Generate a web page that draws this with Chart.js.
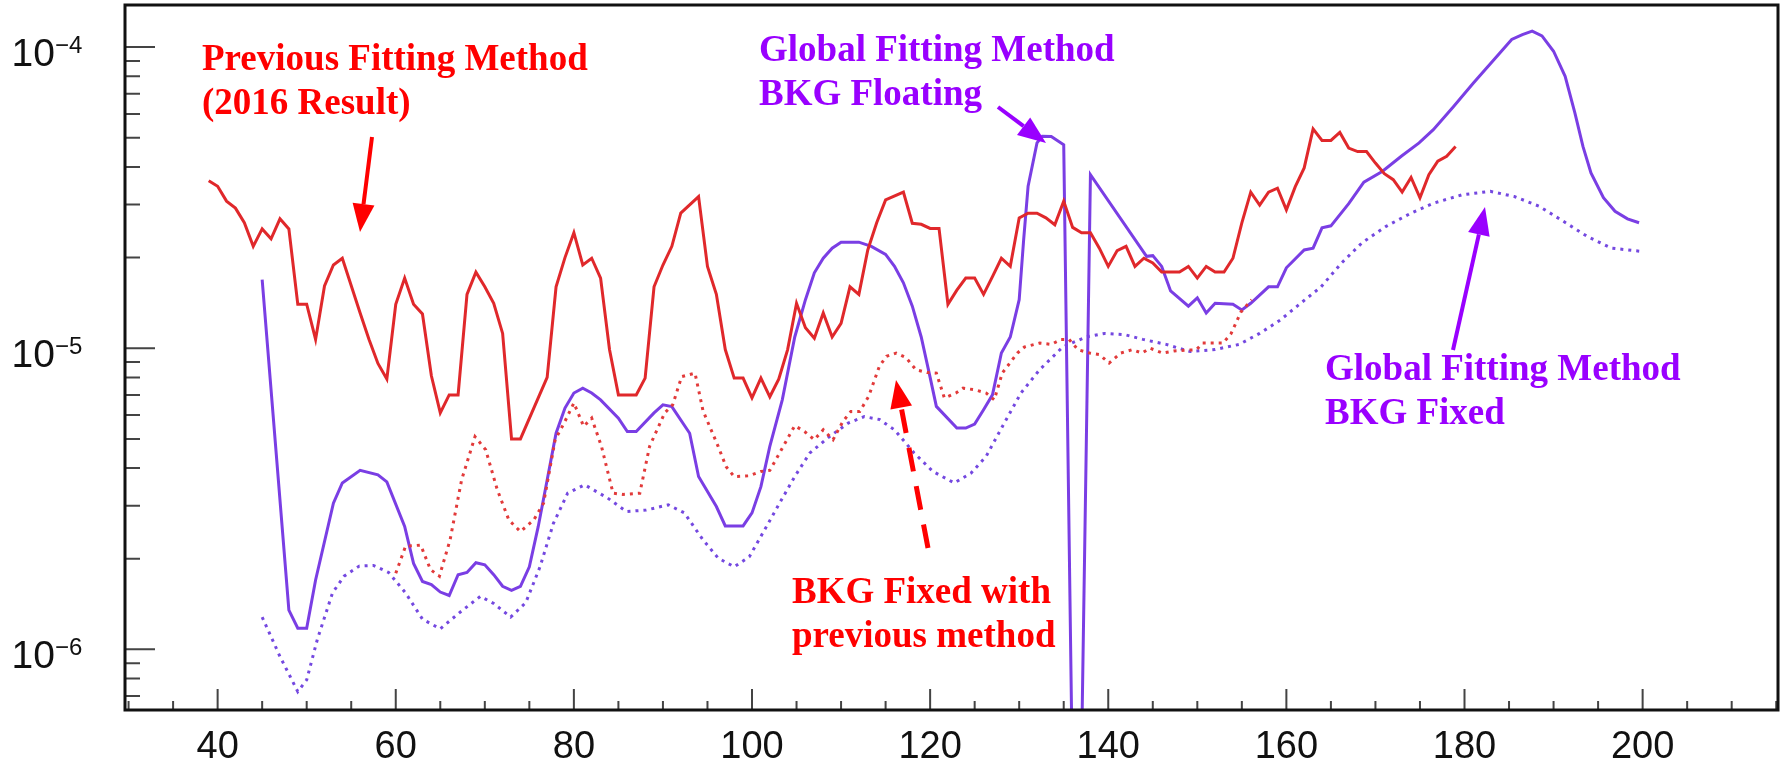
<!DOCTYPE html>
<html>
<head>
<meta charset="utf-8">
<title>Limit comparison</title>
<script src="https://cdn.jsdelivr.net/npm/chart.js@4.4.1/dist/chart.umd.min.js"></script>
<style>
  html, body { margin: 0; padding: 0; background: #fff; }
  #wrap { width: 1785px; height: 764px; }
</style>
</head>
<body>
<div id="wrap"><canvas id="limitChart" width="1785" height="764"></canvas></div>
<script>
// axis ticks
const xTicks = [40, 60, 80, 100, 120, 140, 160, 180, 200];
const yTicks = [1e-6, 1e-5, 1e-4];
const yTickBase = ['10', '10', '10'];
const yTickExp = ['\u22126', '\u22125', '\u22124'];

// Previous Fitting Method (2016 Result) - red solid
const prevX = [39, 40, 41, 42, 43, 44, 45, 46, 47, 48, 49, 50, 51, 52, 53, 54, 56, 57, 58, 59,
  60, 61, 62, 63, 64, 65, 66, 67, 68, 69, 70, 71, 72, 73, 74, 77, 78, 79, 80, 81,
  82, 83, 84, 85, 87, 88, 89, 90, 91, 92, 94, 95, 96, 97, 98, 99, 100, 101, 102, 103,
  104, 105, 106, 107, 108, 109, 110, 111, 112, 113, 114, 115, 117, 118, 119, 120, 121, 122, 123, 124,
  125, 126, 127, 128, 129, 130, 131, 132, 133, 134, 135, 136, 137, 138, 139, 140, 141, 142, 143, 144,
  145, 146, 148, 149, 150, 151, 152, 153, 154, 155, 156, 157, 158, 159, 160, 161, 162, 163, 164, 165,
  166, 167, 168, 169, 170, 171, 172, 173, 174, 175, 176, 177, 178, 179];
const prevY = [3.6e-5, 3.45e-5, 3.08e-5, 2.92e-5, 2.61e-5, 2.18e-5, 2.49e-5, 2.31e-5, 2.69e-5, 2.49e-5,
  1.40e-5, 1.40e-5, 1.07e-5, 1.61e-5, 1.89e-5, 1.99e-5, 1.31e-5, 1.07e-5, 8.9e-6, 7.9e-6,
  1.40e-5, 1.71e-5, 1.40e-5, 1.30e-5, 8.1e-6, 6.1e-6, 7.0e-6, 7.0e-6, 1.51e-5, 1.79e-5,
  1.60e-5, 1.41e-5, 1.12e-5, 5.0e-6, 5.0e-6, 8.0e-6, 1.60e-5, 2.0e-5, 2.42e-5, 1.89e-5,
  1.99e-5, 1.71e-5, 9.9e-6, 7.0e-6, 7.0e-6, 7.96e-6, 1.60e-5, 1.89e-5, 2.18e-5, 2.81e-5,
  3.19e-5, 1.87e-5, 1.51e-5, 9.9e-6, 7.96e-6, 7.96e-6, 6.84e-6, 7.96e-6, 6.9e-6, 7.9e-6,
  9.9e-6, 1.41e-5, 1.17e-5, 1.08e-5, 1.31e-5, 1.09e-5, 1.21e-5, 1.60e-5, 1.51e-5, 2.12e-5,
  2.61e-5, 3.11e-5, 3.30e-5, 2.6e-5, 2.58e-5, 2.5e-5, 2.5e-5, 1.40e-5, 1.56e-5, 1.71e-5,
  1.71e-5, 1.51e-5, 1.73e-5, 1.99e-5, 1.87e-5, 2.71e-5, 2.81e-5, 2.81e-5, 2.71e-5, 2.57e-5,
  3.08e-5, 2.52e-5, 2.42e-5, 2.42e-5, 2.15e-5, 1.87e-5, 2.11e-5, 2.18e-5, 1.87e-5, 1.99e-5,
  1.92e-5, 1.79e-5, 1.79e-5, 1.87e-5, 1.71e-5, 1.87e-5, 1.79e-5, 1.79e-5, 1.99e-5, 2.61e-5,
  3.30e-5, 2.99e-5, 3.30e-5, 3.40e-5, 2.88e-5, 3.44e-5, 3.97e-5, 5.35e-5, 4.90e-5, 4.90e-5,
  5.21e-5, 4.62e-5, 4.50e-5, 4.50e-5, 4.12e-5, 3.80e-5, 3.63e-5, 3.30e-5, 3.69e-5, 3.16e-5,
  3.77e-5, 4.18e-5, 4.34e-5, 4.68e-5];

// BKG Fixed with previous method - red dotted
const prevFixX = [60, 61.1, 62.8, 63.9, 64.9, 66.1, 67.4, 68.9, 70.1, 71.4, 72.7, 74, 75.5, 76.6, 77.9,
  78.9, 80, 81.1, 82, 83.1, 84.4, 85.5, 87.4, 88.5, 90.2, 91.1, 92.1, 93.6, 94.5, 96.2,
  97.1, 98, 99.7, 101, 102, 103.1, 104.8, 105.9, 107, 108, 109.1, 110.2, 111.1, 112.1, 113.1,
  114.3, 115.1, 116.2, 117.3, 118.4, 119.7, 120.7, 121.6, 122.9, 123.7, 125, 126.3, 127.2, 128.1, 129.8,
  130.6, 132.3, 133.6, 134.7, 135.6, 136.6, 137.9, 139, 140.1, 141.4, 142.7, 143.8, 144.7, 146.1, 147.4,
  149.9, 150.6, 152.9, 153.8, 154.9, 156.1];
const prevFixY = [1.79e-6, 2.2e-6, 2.22e-6, 1.84e-6, 1.75e-6, 2.31e-6, 3.66e-6, 5.09e-6, 4.6e-6, 3.39e-6,
  2.69e-6, 2.46e-6, 2.69e-6, 3.06e-6, 4.97e-6, 5.64e-6, 6.58e-6, 5.5e-6, 5.86e-6, 4.72e-6,
  3.30e-6, 3.27e-6, 3.30e-6, 4.72e-6, 6.1e-6, 6.49e-6, 8.05e-6, 8.27e-6, 6.2e-6, 4.72e-6,
  4.04e-6, 3.75e-6, 3.77e-6, 3.90e-6, 3.93e-6, 4.49e-6, 5.53e-6, 5.29e-6, 4.97e-6, 5.36e-6,
  4.97e-6, 5.71e-6, 6.17e-6, 6.17e-6, 6.92e-6, 8.71e-6, 9.40e-6, 9.64e-6, 9.3e-6, 8.49e-6,
  8.3e-6, 8.27e-6, 6.84e-6, 7.10e-6, 7.37e-6, 7.28e-6, 7.1e-6, 6.74e-6, 8.27e-6, 9.64e-6,
  1.01e-5, 1.04e-5, 1.03e-5, 1.07e-5, 1.07e-5, 9.89e-6, 9.64e-6, 9.53e-6, 8.93e-6, 9.64e-6,
  9.89e-6, 9.64e-6, 1.0e-5, 9.64e-6, 9.8e-6, 9.89e-6, 1.04e-5, 1.04e-5, 1.12e-5, 1.32e-5,
  1.45e-5];

// Global Fitting Method, BKG Floating - purple solid
const floatX = [45, 48, 49, 50, 51, 53, 54, 56, 58, 59, 61, 62, 63, 64, 65, 66, 67, 68, 69, 70,
  71, 72, 73, 74, 75, 76, 77, 78, 79, 80, 81, 82, 83, 85, 86, 87, 89, 90, 91, 93,
  94, 96, 97, 99, 100, 101, 102, 103.4, 104.8, 106, 107, 108, 109, 110, 112, 113.4, 115, 116, 117, 118,
  119, 120, 120.7, 123, 124, 125, 126, 127, 128, 129, 130, 130.5, 131, 132, 132.6, 133.6, 135, 136, 137, 138,
  144.3, 145, 146, 147, 149, 150, 151, 152, 154, 155, 156, 158, 159, 160, 162, 163, 164, 165, 167, 168.7,
  170.8, 172.9, 174.9, 176.5, 178.8, 181, 183.3, 185.3, 186.5, 187.6, 188.7, 190, 191.3, 192.4, 193.3, 194.2,
  195.6, 196.9, 198.3, 199.6];
const floatY = [1.69e-5, 1.35e-6, 1.175e-6, 1.175e-6, 1.70e-6, 3.06e-6, 3.57e-6, 3.93e-6, 3.80e-6, 3.6e-6,
  2.56e-6, 1.93e-6, 1.68e-6, 1.64e-6, 1.55e-6, 1.51e-6, 1.77e-6, 1.80e-6, 1.94e-6, 1.91e-6,
  1.77e-6, 1.62e-6, 1.57e-6, 1.62e-6, 1.88e-6, 2.56e-6, 3.65e-6, 5.22e-6, 6.33e-6, 7.10e-6,
  7.37e-6, 7.10e-6, 6.74e-6, 5.86e-6, 5.29e-6, 5.29e-6, 6.1e-6, 6.49e-6, 6.4e-6, 5.22e-6,
  3.75e-6, 2.98e-6, 2.57e-6, 2.57e-6, 2.84e-6, 3.47e-6, 4.72e-6, 6.74e-6, 1.09e-5, 1.45e-5,
  1.78e-5, 1.99e-5, 2.15e-5, 2.25e-5, 2.25e-5, 2.18e-5, 2.05e-5, 1.87e-5, 1.65e-5, 1.38e-5,
  1.09e-5, 8.0e-6, 6.41e-6, 5.43e-6, 5.43e-6, 5.6e-6, 6.25e-6, 7.0e-6, 9.64e-6, 1.09e-5,
  1.45e-5, 2.29e-5, 3.45e-5, 4.81e-5, 5.06e-5, 5.05e-5, 4.74e-5, 3.4e-7, 4.5e-7, 3.77e-5,
  2.02e-5, 2.03e-5, 1.87e-5, 1.55e-5, 1.38e-5, 1.47e-5, 1.31e-5, 1.41e-5, 1.40e-5, 1.34e-5,
  1.41e-5, 1.60e-5, 1.60e-5, 1.85e-5, 2.12e-5, 2.15e-5, 2.51e-5, 2.55e-5, 3.02e-5, 3.56e-5,
  3.87e-5, 4.34e-5, 4.81e-5, 5.32e-5, 6.36e-5, 7.6e-5, 9.08e-5, 1.06e-4, 1.10e-4, 1.13e-4,
  1.09e-4, 9.69e-5, 8.0e-5, 6.04e-5, 4.68e-5, 3.82e-5, 3.16e-5, 2.85e-5, 2.69e-5, 2.61e-5];

// Global Fitting Method, BKG Fixed - purple dotted
const fixedX = [45, 47, 49, 50, 51.2, 52.9, 54.2, 55.9, 57.5, 59.2, 61.1, 63, 65, 67.1, 69.5, 71, 72.9,
  74.6, 76.2, 77.7, 79.3, 81.2, 83.8, 85.9, 88.1, 90.6, 92.4, 94.5, 96.2, 98, 99.7, 101.4, 103.1,
  104.8, 106.5, 108.7, 110.8, 112.6, 114.3, 116, 118.2, 120.3, 122.7, 124.6, 126.3, 128.1, 130.2, 132.3,
  134.9, 137.5, 139.6, 141.8, 143.9, 146.5, 149.2, 152, 154.7, 157, 159.3, 161.6, 163.9, 166.2, 168.5,
  171.2, 174, 176.5, 179.7, 182.9, 185.6, 188.4, 191.1, 193.8, 196.5, 199.7];
const fixedY = [1.28e-6, 9.47e-7, 7.24e-7, 7.92e-7, 1.08e-6, 1.54e-6, 1.75e-6, 1.89e-6, 1.9e-6, 1.80e-6,
  1.54e-6, 1.26e-6, 1.17e-6, 1.32e-6, 1.50e-6, 1.42e-6, 1.28e-6, 1.43e-6, 1.88e-6, 2.62e-6,
  3.3e-6, 3.52e-6, 3.18e-6, 2.87e-6, 2.9e-6, 3.02e-6, 2.84e-6, 2.31e-6, 2.01e-6, 1.88e-6,
  2.03e-6, 2.49e-6, 3.06e-6, 3.75e-6, 4.49e-6, 5.09e-6, 5.64e-6, 5.93e-6, 5.8e-6, 5.36e-6,
  4.49e-6, 3.90e-6, 3.57e-6, 3.85e-6, 4.38e-6, 5.49e-6, 7.1e-6, 8.49e-6, 1.01e-5, 1.09e-5,
  1.12e-5, 1.11e-5, 1.07e-5, 1.03e-5, 9.75e-6, 9.9e-6, 1.03e-5, 1.12e-5, 1.24e-5, 1.41e-5,
  1.6e-5, 1.92e-5, 2.24e-5, 2.54e-5, 2.81e-5, 3.03e-5, 3.23e-5, 3.32e-5, 3.19e-5, 2.96e-5,
  2.64e-5, 2.35e-5, 2.15e-5, 2.1e-5];

const toPoints = (xs, ys) => xs.map((x, i) => ({ x: x, y: ys[i] }));

// text labels drawn over the plot (pixel positions, baseline of first line)
const notes = [
  { lines: ['Previous Fitting Method', '(2016 Result)'], color: '#ff0000', x: 202, y: 70 },
  { lines: ['Global Fitting Method', 'BKG Floating'], color: '#9900ff', x: 759, y: 61 },
  { lines: ['BKG Fixed with', 'previous method'], color: '#ff0000', x: 792, y: 603 },
  { lines: ['Global Fitting Method', 'BKG Fixed'], color: '#9900ff', x: 1325, y: 380 }
];
const arrows = [
  { from: [372, 137], to: [360, 232], color: '#ff0000', dash: [] },
  { from: [998, 107], to: [1046, 143], color: '#9900ff', dash: [] },
  { from: [928, 548], to: [896, 380], color: '#ff0000', dash: [24, 15] },
  { from: [1453, 350], to: [1485, 207], color: '#9900ff', dash: [] }
];

function drawArrow(ctx, a) {
  const [x0, y0] = a.from, [x1, y1] = a.to;
  const ang = Math.atan2(y1 - y0, x1 - x0);
  const headLen = 28, headW = 11;
  const bx = x1 - headLen * Math.cos(ang), by = y1 - headLen * Math.sin(ang);
  ctx.save();
  ctx.strokeStyle = a.color;
  ctx.fillStyle = a.color;
  ctx.lineWidth = a.dash.length ? 5 : 4;
  ctx.setLineDash(a.dash);
  ctx.beginPath();
  ctx.moveTo(x0, y0);
  ctx.lineTo(bx, by);
  ctx.stroke();
  ctx.setLineDash([]);
  ctx.beginPath();
  ctx.moveTo(x1, y1);
  ctx.lineTo(bx + headW * Math.sin(ang), by - headW * Math.cos(ang));
  ctx.lineTo(bx - headW * Math.sin(ang), by + headW * Math.cos(ang));
  ctx.closePath();
  ctx.fill();
  ctx.restore();
}

const frameAndText = {
  id: 'frameAndText',
  beforeDraw(chart) {
    const ctx = chart.ctx;
    ctx.save();
    ctx.fillStyle = '#fff';
    ctx.fillRect(0, 0, chart.width, chart.height);
    ctx.restore();
  },
  afterDraw(chart) {
    const { ctx, chartArea: a, scales } = chart;
    const xs = scales.x, ys = scales.y;
    ctx.save();

    // ticks, drawn inwards like ROOT
    ctx.strokeStyle = '#444';
    ctx.lineWidth = 2;
    ctx.beginPath();
    for (let v = 30; v <= 215; v += 5) {
      const px = xs.getPixelForValue(v);
      const len = xTicks.includes(v) ? 21 : 9;
      ctx.moveTo(px, a.bottom);
      ctx.lineTo(px, a.bottom - len);
    }
    for (let e = -7; e <= -4; e++) {
      for (let m = 1; m <= 9; m++) {
        const v = m * Math.pow(10, e);
        if (v < ys.min || v > ys.max) continue;
        const py = ys.getPixelForValue(v);
        const len = m === 1 ? 30 : 15;
        ctx.moveTo(a.left, py);
        ctx.lineTo(a.left + len, py);
      }
    }
    ctx.stroke();

    // frame
    ctx.strokeStyle = '#111';
    ctx.lineWidth = 3;
    ctx.strokeRect(a.left, a.top, a.right - a.left, a.bottom - a.top);

    // x labels
    ctx.fillStyle = '#111';
    ctx.font = '38px "Liberation Sans", Arial, sans-serif';
    ctx.textAlign = 'center';
    ctx.textBaseline = 'alphabetic';
    xTicks.forEach(v => ctx.fillText(String(v), xs.getPixelForValue(v), 758));

    // y labels 10^n
    yTicks.forEach((v, i) => {
      const py = ys.getPixelForValue(v);
      ctx.textAlign = 'right';
      ctx.font = '39px "Liberation Sans", Arial, sans-serif';
      ctx.fillText(yTickBase[i], 55, py + 19);
      ctx.textAlign = 'left';
      ctx.font = '24px "Liberation Sans", Arial, sans-serif';
      ctx.fillText(yTickExp[i], 55, py + 6);
    });

    // annotations
    ctx.textAlign = 'left';
    ctx.font = 'bold 37px "Liberation Serif", "Times New Roman", serif';
    notes.forEach(n => {
      ctx.fillStyle = n.color;
      n.lines.forEach((t, k) => ctx.fillText(t, n.x, n.y + k * 44));
    });
    arrows.forEach(ar => drawArrow(ctx, ar));
    ctx.restore();
  }
};

const solid = { borderWidth: 3, pointRadius: 0, tension: 0, fill: false };
const dotted = { borderWidth: 3, pointRadius: 0, tension: 0, fill: false, borderDash: [3, 5] };

new Chart(document.getElementById('limitChart'), {
  type: 'line',
  data: {
    datasets: [
      Object.assign({ label: 'Previous Fitting Method (2016 Result)', data: toPoints(prevX, prevY), borderColor: '#e0282b' }, solid),
      Object.assign({ label: 'BKG Fixed with previous method', data: toPoints(prevFixX, prevFixY), borderColor: '#e23a3a' }, dotted),
      Object.assign({ label: 'Global Fitting Method BKG Floating', data: toPoints(floatX, floatY), borderColor: '#7a3ee4' }, solid),
      Object.assign({ label: 'Global Fitting Method BKG Fixed', data: toPoints(fixedX, fixedY), borderColor: '#7448e0' }, dotted)
    ]
  },
  options: {
    responsive: false,
    animation: false,
    layout: { padding: { left: 125, right: 7, top: 5, bottom: 54 } },
    plugins: { legend: { display: false }, tooltip: { enabled: false } },
    scales: {
      x: { type: 'linear', min: 29.6, max: 215.2, display: false },
      y: { type: 'logarithmic', min: 6.29e-7, max: 1.38e-4, display: false }
    }
  },
  plugins: [frameAndText]
});
</script>
</body>
</html>
